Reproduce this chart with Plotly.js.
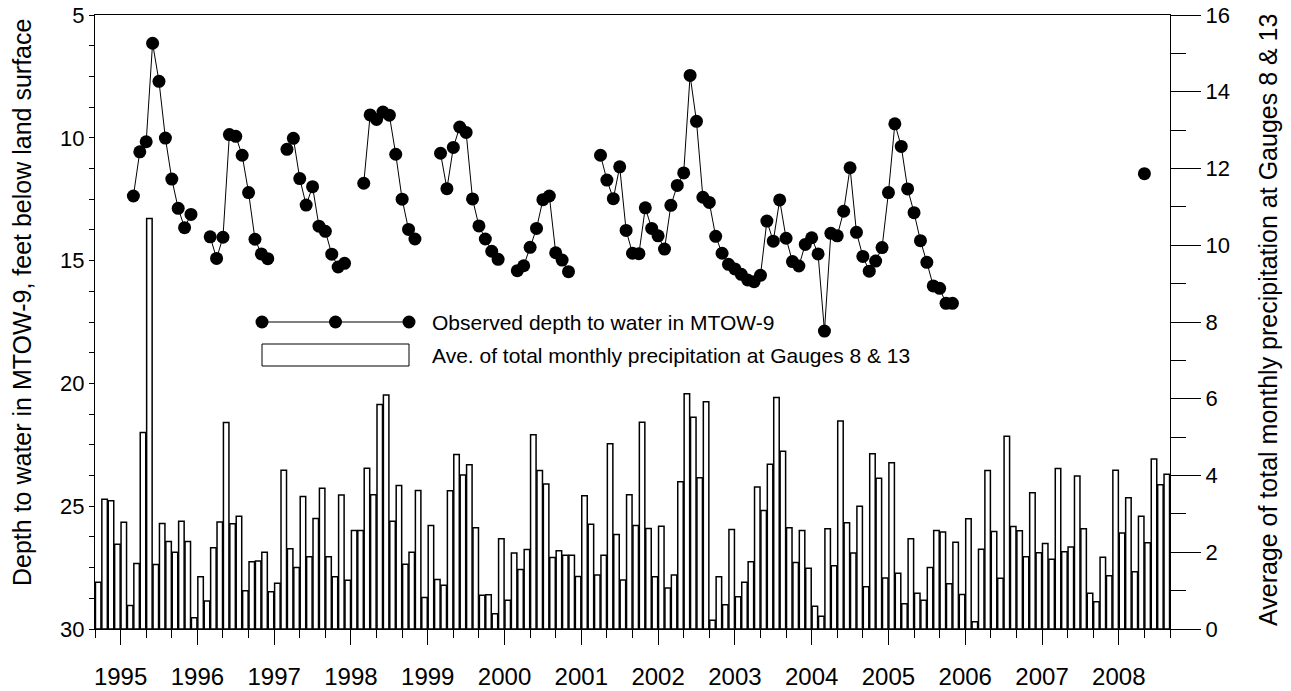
<!DOCTYPE html>
<html>
<head>
<meta charset="utf-8">
<script src="https://cdn.plot.ly/plotly-3.0.1.min.js"></script>
<style>
  html, body { margin: 0; padding: 0; background: #ffffff; }
  #chart { width: 1291px; height: 691px; }
</style>
</head>
<body>
<div id="chart"></div>
<script>
// ---- DATA ----
// Monthly precipitation (inches), first month = September 1994, 168 months
const precipStart = { year: 1994, month: 9 };
const precip = [
  1.22, 3.38, 3.34, 2.21, 2.78, 0.61, 1.71, 5.12, 10.70, 1.68, 2.75, 2.28,
  2.00, 2.81, 2.28, 0.29, 1.36, 0.73, 2.12, 2.79, 5.38, 2.74, 2.94, 1.00,
  1.75, 1.77, 2.00, 0.97, 1.19, 4.14, 2.09, 1.60, 3.45, 1.88, 2.88, 3.67,
  1.88, 1.36, 3.49, 1.27, 2.57, 2.57, 4.19, 3.50, 5.85, 6.10, 2.81, 3.74,
  1.69, 2.00, 3.61, 0.82, 2.70, 1.29, 1.14, 3.60, 4.55, 4.01, 4.28, 2.64,
  0.88, 0.89, 0.40, 2.35, 0.75, 1.98, 1.55, 2.07, 5.06, 4.13, 3.78, 1.86,
  2.04, 1.92, 1.92, 1.37, 3.47, 2.73, 1.41, 1.92, 4.83, 2.46, 1.28, 3.50,
  2.70, 5.39, 2.62, 1.36, 2.68, 1.07, 1.41, 3.84, 6.13, 5.52, 3.94, 5.92,
  0.23, 1.36, 0.63, 2.59, 0.84, 1.22, 1.75, 3.70, 3.09, 4.29, 6.03, 4.63,
  2.64, 1.73, 2.57, 1.58, 0.59, 0.33, 2.61, 1.65, 5.42, 2.77, 1.98, 3.20,
  1.10, 4.57, 3.93, 1.33, 4.33, 1.45, 0.66, 2.35, 0.93, 0.75, 1.60, 2.57,
  2.53, 1.18, 2.26, 0.90, 2.87, 0.19, 2.08, 4.13, 2.54, 1.32, 5.02, 2.67,
  2.56, 1.88, 3.55, 1.99, 2.23, 1.82, 4.18, 2.01, 2.14, 3.99, 2.61, 0.93,
  0.71, 1.87, 1.39, 4.14, 2.50, 3.42, 1.49, 2.94, 2.25, 4.43, 3.76, 4.03
];

// Observed depth to water (ft below land surface), first value = March 1995 (month start), null = no observation
const depthStart = { year: 1995, month: 3 };
const depth = [
  12.37, 10.57, 10.16, 6.15, 7.70, 10.01, 11.68, 12.87, 13.66, 13.12,
  null, null,
  14.03, 14.91, 14.05, 9.87, 9.94, 10.71, 12.23, 14.13, 14.73, 14.92,
  null, null,
  10.47, 10.02, 11.66, 12.74, 11.99, 13.60, 13.81, 14.74, 15.26, 15.11,
  null, null,
  11.85, 9.07, 9.25, 8.95, 9.08, 10.67, 12.50, 13.73, 14.12,
  null, null, null,
  10.63, 12.07, 10.39, 9.56, 9.78, 12.49, 13.59, 14.12, 14.62, 14.95,
  null, null,
  15.41, 15.21, 14.46, 13.69, 12.52, 12.37, 14.68, 14.98, 15.45,
  null, null, null, null,
  10.71, 11.72, 12.48, 11.18, 13.77, 14.70, 14.72, 12.85, 13.69, 13.99,
  14.53, 12.75, 11.94, 11.43, 7.46, 9.33, 12.42, 12.63, 14.01, 14.70,
  15.15, 15.34, 15.56, 15.79, 15.86, 15.60, 13.39, 14.21, 12.53, 14.09,
  15.04, 15.22, 14.34, 14.07, 14.73, 17.87, 13.89, 13.99, 12.99, 11.22,
  13.85, 14.83, 15.43, 15.02, 14.47, 12.23, 9.43, 10.35, 12.08, 13.05,
  14.19, 15.07, 16.03, 16.13, 16.74, 16.74,
  null, null, null, null, null, null, null, null, null, null,
  null, null, null, null, null, null, null, null, null, null,
  null, null, null, null, null, null, null, null, null,
  11.46
];

const yearTicks = [1995, 1996, 1997, 1998, 1999, 2000, 2001, 2002, 2003, 2004, 2005, 2006, 2007, 2008];
const leftTicks = [5, 10, 15, 20, 25, 30];
const rightTicks = [0, 2, 4, 6, 8, 10, 12, 14, 16];

const depthName = 'Observed depth to water in MTOW-9';
const precipName = 'Ave. of total monthly precipitation at Gauges 8 & 13';
const leftTitle = 'Depth to water in MTOW-9, feet below land surface';
const rightTitle = 'Average of total monthly precipitation at Gauges 8 & 13';

// ---- helpers ----
function monthStart(start, i) { return start.year + (start.month - 1 + i) / 12; }
const precipX = precip.map((v, i) => monthStart(precipStart, i) + 0.5 / 12);
const depthX = depth.map((v, i) => monthStart(depthStart, i));

const FONT = 'Liberation Sans, Arial, sans-serif';

const barTrace = {
  type: 'bar', x: precipX, y: precip, yaxis: 'y', xaxis: 'x',
  width: 0.86 / 12,
  marker: { color: '#ffffff', line: { color: '#000000', width: 1.5 } },
  showlegend: false, hoverinfo: 'x+y'
};
const depthTrace = {
  type: 'scatter', mode: 'lines+markers', x: depthX, y: depth, yaxis: 'y2', xaxis: 'x',
  connectgaps: false,
  line: { color: '#000000', width: 1 },
  marker: { color: '#000000', size: 13 },
  showlegend: false
};

// plot area in pixels (for legend / title placement)
const M = { l: 95, r: 121, t: 15, b: 62 };
const W = 1291, H = 691;
const PW = W - M.l - M.r, PH = H - M.t - M.b;
const px = x => (x - M.l) / PW;
const py = y => (H - M.b - y) / PH;

const legLineY = 322, legRectTop = 344, legRectBot = 366;
const legX0 = 262, legX1 = 409, legTextX = 430;
const shapes = [
  { type: 'line', xref: 'paper', yref: 'paper', x0: px(legX0), x1: px(legX1), y0: py(legLineY), y1: py(legLineY),
    line: { color: '#000', width: 1 } },
  { type: 'rect', xref: 'paper', yref: 'paper', x0: px(legX0), x1: px(legX1), y0: py(legRectBot), y1: py(legRectTop),
    line: { color: '#000', width: 1 }, fillcolor: '#fff' }
];
[legX0, (legX0 + legX1) / 2, legX1].forEach(cx => {
  shapes.push({ type: 'circle', xref: 'paper', yref: 'paper', xsizemode: 'pixel', ysizemode: 'pixel',
    xanchor: px(cx), yanchor: py(legLineY), x0: -6.5, x1: 6.5, y0: -6.5, y1: 6.5,
    fillcolor: '#000', line: { color: '#000', width: 0 } });
});

const annotations = [
  { xref: 'paper', yref: 'paper', x: px(legTextX), y: py(legLineY), xanchor: 'left', yanchor: 'middle',
    text: depthName, showarrow: false, font: { family: FONT, size: 21, color: '#000' } },
  { xref: 'paper', yref: 'paper', x: px(legTextX), y: py((legRectTop + legRectBot) / 2), xanchor: 'left', yanchor: 'middle',
    text: precipName, showarrow: false, font: { family: FONT, size: 21, color: '#000' } },
  // axis titles
  { xref: 'paper', yref: 'paper', x: px(22), y: py(303), xanchor: 'center', yanchor: 'middle', textangle: -90,
    text: leftTitle, showarrow: false, font: { family: FONT, size: 25, color: '#000' } },
  { xref: 'paper', yref: 'paper', x: px(1268), y: py(320), xanchor: 'center', yanchor: 'middle', textangle: -90,
    text: rightTitle, showarrow: false, font: { family: FONT, size: 25, color: '#000' } }
];

const layout = {
  width: W, height: H,
  margin: M,
  paper_bgcolor: '#fff', plot_bgcolor: '#fff',
  font: { family: FONT, size: 22, color: '#000' },
  bargap: 0,
  xaxis: {
    range: [monthStart(precipStart, 0), monthStart(precipStart, precip.length)],
    tickmode: 'array', tickvals: yearTicks, ticktext: yearTicks.map(String),
    ticks: 'outside', ticklen: 15, tickwidth: 1, tickcolor: '#000',
    ticklabelstandoff: 11,
    minor: { tickmode: 'linear', tick0: 1995, dtick: 1 / 3, ticks: 'outside', ticklen: 8, tickwidth: 1, tickcolor: '#000', showgrid: false },
    showline: true, linecolor: '#000', linewidth: 1, mirror: true,
    showgrid: false, zeroline: false,
    tickfont: { family: FONT, size: 24, color: '#000' }
  },
  yaxis: {
    side: 'right', range: [0, 16],
    tickmode: 'array', tickvals: rightTicks,
    ticks: 'outside', ticklen: 30, tickwidth: 1, tickcolor: '#000',
    minor: { tickmode: 'linear', tick0: 0, dtick: 1, ticks: 'outside', ticklen: 15, tickwidth: 1, tickcolor: '#000', showgrid: false },
    showline: true, linecolor: '#000', linewidth: 1,
    showgrid: false, zeroline: false,
    tickfont: { family: FONT, size: 22, color: '#000' }
  },
  yaxis2: {
    overlaying: 'y', side: 'left', range: [30, 5],
    tickmode: 'array', tickvals: leftTicks,
    ticks: 'outside', ticklen: 5, tickwidth: 1, tickcolor: '#000',
    minor: { tickmode: 'linear', tick0: 5, dtick: 1.25, ticks: 'outside', ticklen: 5, tickwidth: 1, tickcolor: '#000', showgrid: false },
    showline: true, linecolor: '#000', linewidth: 1,
    showgrid: false, zeroline: false,
    tickfont: { family: FONT, size: 22, color: '#000' }
  },
  shapes: shapes,
  annotations: annotations
};

Plotly.newPlot('chart', [barTrace, depthTrace], layout, { displayModeBar: false, staticPlot: true });
</script>
</body>
</html>
